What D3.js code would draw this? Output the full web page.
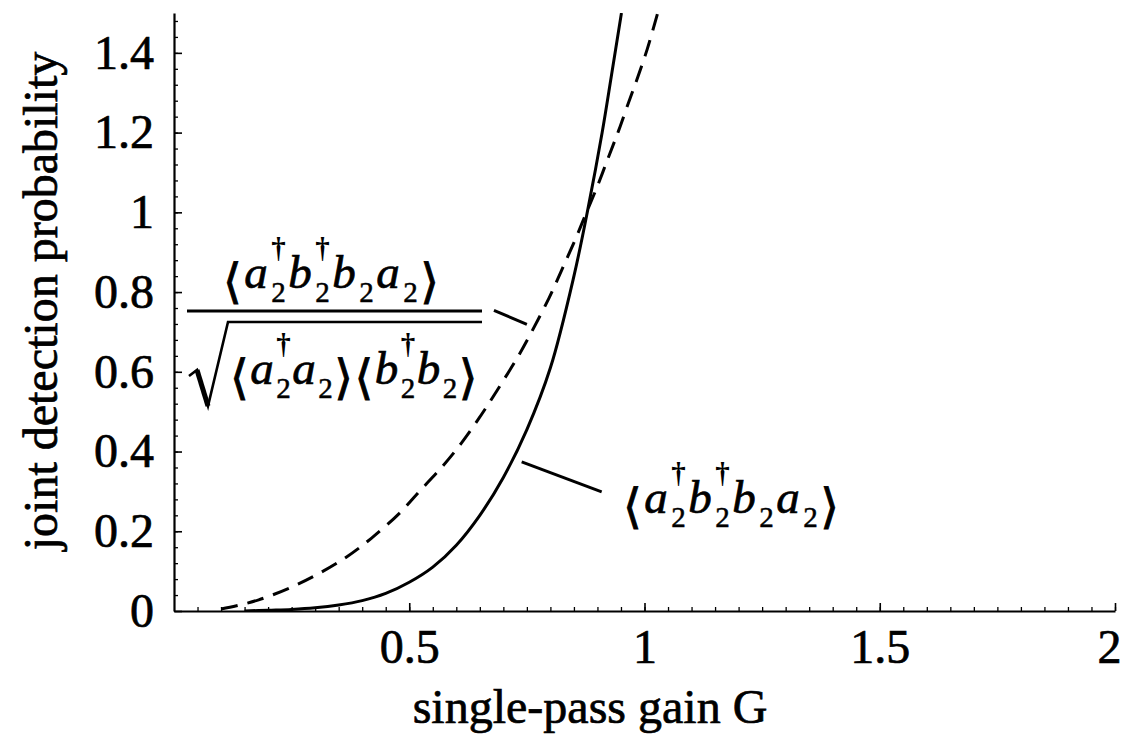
<!DOCTYPE html>
<html>
<head>
<meta charset="utf-8">
<script src="https://cdn.jsdelivr.net/npm/d3@7"></script>
<style>
  html, body { margin: 0; padding: 0; background: #fff; }
  svg { display: block; }
  text { fill: #000; }
</style>
</head>
<body>
<svg id="chart" width="1127" height="736"></svg>
<script>
// ---------- data ----------
const solidG = [0.15, 0.20, 0.25, 0.30, 0.35, 0.40, 0.45, 0.50, 0.55, 0.60, 0.65, 0.70, 0.75, 0.80, 0.85, 0.88, 0.91, 0.93, 0.951];
const solidP = [0.000, 0.002, 0.004, 0.008, 0.015, 0.026, 0.044, 0.072, 0.110, 0.165, 0.240, 0.335, 0.455, 0.610, 0.840, 1.010, 1.200, 1.345, 1.500];

const dashedG = [0.10, 0.133, 0.18, 0.246, 0.305, 0.366, 0.42, 0.479, 0.52, 0.57, 0.61, 0.648, 0.686, 0.733, 0.76, 0.797, 0.824, 0.854, 0.875, 0.898, 0.924, 0.945, 0.966, 0.983, 1.006, 1.028];
const dashedP = [0.005, 0.013, 0.028, 0.058, 0.092, 0.135, 0.183, 0.245, 0.298, 0.362, 0.420, 0.483, 0.552, 0.642, 0.700, 0.785, 0.855, 0.935, 0.995, 1.060, 1.140, 1.205, 1.275, 1.330, 1.410, 1.500];

const xTickValues = [0.5, 1, 1.5, 2];
const xTickLabels = ["0.5", "1", "1.5", "2"];
const yTickValues = [0, 0.2, 0.4, 0.6, 0.8, 1, 1.2, 1.4];
const yTickLabels = ["0", "0.2", "0.4", "0.6", "0.8", "1", "1.2", "1.4"];

const xTitle = "single-pass gain G";
const yTitle = "joint detection probability";

// annotation pointer segments in data coordinates [G, P]
const solidPointer = [[0.739, 0.374], [0.909, 0.299]];
const dashedPointer = [[0.680, 0.754], [0.750, 0.719]];

// ---------- layout ----------
const svg = d3.select("#chart");
const W = 1127, H = 736;
svg.append("rect").attr("width", W).attr("height", H).attr("fill", "#fff");

const x = d3.scaleLinear().domain([0, 2]).range([174, 1115]);
const y = d3.scaleLinear().domain([0, 1.5]).range([611, 13]);

const serif = "'Liberation Serif', 'Times New Roman', Times, serif";
const tickFont = 48;
const inkW = 0.7; // scanned print looks slightly heavy

// minor ticks
svg.append("g").attr("transform", `translate(0,${y(0)})`)
  .call(d3.axisBottom(x).tickValues(d3.range(0.05, 2.0001, 0.05)).tickFormat("").tickSize(-4).tickSizeOuter(0))
  .call(g => g.select(".domain").remove())
  .call(g => g.selectAll("line").attr("stroke", "#000").attr("stroke-width", 1.3));
svg.append("g").attr("transform", `translate(${x(0)},0)`)
  .call(d3.axisLeft(y).tickValues(d3.range(0.04, 1.5001, 0.04)).tickFormat("").tickSize(-4).tickSizeOuter(0))
  .call(g => g.select(".domain").remove())
  .call(g => g.selectAll("line").attr("stroke", "#000").attr("stroke-width", 1.3));

// major axes
const xAxis = svg.append("g").attr("transform", `translate(0,${y(0)})`)
  .call(d3.axisBottom(x).tickValues(xTickValues).tickFormat((d, i) => xTickLabels[i]).tickSize(-8).tickSizeOuter(0).tickPadding(18));
const yAxis = svg.append("g").attr("transform", `translate(${x(0)},0)`)
  .call(d3.axisLeft(y).tickValues(yTickValues).tickFormat((d, i) => yTickLabels[i]).tickSize(-8).tickSizeOuter(0).tickPadding(20));

[xAxis, yAxis].forEach(a => {
  a.select(".domain").attr("stroke", "#000").attr("stroke-width", 2.2);
  a.selectAll(".tick line").attr("stroke", "#000").attr("stroke-width", 1.6);
  a.selectAll(".tick text").attr("font-family", serif).attr("font-size", tickFont)
    .attr("fill", "#000").attr("stroke", "#000").attr("stroke-width", inkW);
});
// keep the last x label inside the frame
xAxis.selectAll(".tick text").filter(d => d === 2).attr("dx", -6);

// axis titles
svg.append("text")
  .attr("x", 590).attr("y", 723)
  .attr("text-anchor", "middle")
  .attr("font-family", serif).attr("font-size", 48)
  .attr("stroke", "#000").attr("stroke-width", inkW)
  .text(xTitle);
svg.append("text")
  .attr("transform", "translate(57,301) rotate(-90)")
  .attr("text-anchor", "middle")
  .attr("font-family", serif).attr("font-size", 48)
  .attr("stroke", "#000").attr("stroke-width", inkW)
  .text(yTitle);

// ---------- curves ----------
svg.append("clipPath").attr("id", "plotclip")
  .append("rect").attr("x", x(0)).attr("y", y(1.5)).attr("width", x(2) - x(0)).attr("height", y(0) - y(1.5));

const line = d3.line().x(d => x(d[0])).y(d => y(d[1])).curve(d3.curveCatmullRom.alpha(0.5));

svg.append("path")
  .datum(dashedG.map((g, i) => [g, dashedP[i]]))
  .attr("d", line)
  .attr("fill", "none").attr("stroke", "#000").attr("stroke-width", 3)
  .attr("stroke-dasharray", "17,10")
  .attr("clip-path", "url(#plotclip)");

svg.append("path")
  .datum(solidG.map((g, i) => [g, solidP[i]]))
  .attr("d", line)
  .attr("fill", "none").attr("stroke", "#000").attr("stroke-width", 3)
  .attr("clip-path", "url(#plotclip)");

// pointer lines
[solidPointer, dashedPointer].forEach(seg => {
  svg.append("line")
    .attr("x1", x(seg[0][0])).attr("y1", y(seg[0][1]))
    .attr("x2", x(seg[1][0])).attr("y2", y(seg[1][1]))
    .attr("stroke", "#000").attr("stroke-width", 3);
});

// ---------- math labels ----------
function mathLabel(x0, base, tokens, gap) {
  const g = svg.append("g");
  let cx = x0;
  tokens.forEach(tok => {
    if (tok.k === "br") {
      const t = g.append("text").attr("x", cx).attr("y", base + 10)
        .attr("font-family", "'DejaVu Sans', sans-serif").attr("font-size", 48)
        .attr("stroke", "#000").attr("stroke-width", 0.9).text(tok.t);
      cx += t.node().getComputedTextLength() + gap;
    } else if (tok.k === "v") {
      const t = g.append("text").attr("x", cx).attr("y", base)
        .attr("font-family", serif).attr("font-style", "italic").attr("font-size", 47)
        .attr("stroke", "#000").attr("stroke-width", inkW).text(tok.t);
      cx += t.node().getComputedTextLength() + gap;
    } else if (tok.k === "s") {
      const sx = cx + 1;
      const t = g.append("text").attr("x", sx).attr("y", base + 14)
        .attr("font-family", serif).attr("font-size", 29)
        .attr("stroke", "#000").attr("stroke-width", 0.5).text("2");
      const w = t.node().getComputedTextLength();
      if (tok.sup) {
        g.append("text").attr("x", sx + w / 2).attr("y", base - 30)
          .attr("text-anchor", "middle")
          .attr("font-family", serif).attr("font-size", 29).attr("font-weight", "bold").text("\u2020");
      }
      cx = sx + w + gap;
    }
  });
  return cx;
}

const L = "\u27E8", R = "\u27E9";
const numer = [
  {k: "br", t: L}, {k: "v", t: "a"}, {k: "s", sup: true}, {k: "v", t: "b"}, {k: "s", sup: true},
  {k: "v", t: "b"}, {k: "s"}, {k: "v", t: "a"}, {k: "s"}, {k: "br", t: R}
];
const denom = [
  {k: "br", t: L}, {k: "v", t: "a"}, {k: "s", sup: true}, {k: "v", t: "a"}, {k: "s"}, {k: "br", t: R},
  {k: "br", t: L}, {k: "v", t: "b"}, {k: "s", sup: true}, {k: "v", t: "b"}, {k: "s"}, {k: "br", t: R}
];

// label beside solid curve
mathLabel(623, 513, numer, 2.5);

// fraction label for dashed curve
mathLabel(223, 288, numer, 2.5);
mathLabel(230, 384, denom, 1.5);
// fraction bar
svg.append("line").attr("x1", 187).attr("x2", 482).attr("y1", 311).attr("y2", 311)
  .attr("stroke", "#000").attr("stroke-width", 3);
// radical sign with overline
svg.append("path")
  .attr("d", "M189,376 L197,370 L208,406 L228,322 L482,322")
  .attr("fill", "none").attr("stroke", "#000").attr("stroke-width", 2.6).attr("stroke-linejoin", "miter");
svg.append("path")
  .attr("d", "M197,370 L208,406")
  .attr("fill", "none").attr("stroke", "#000").attr("stroke-width", 5);
</script>
</body>
</html>
